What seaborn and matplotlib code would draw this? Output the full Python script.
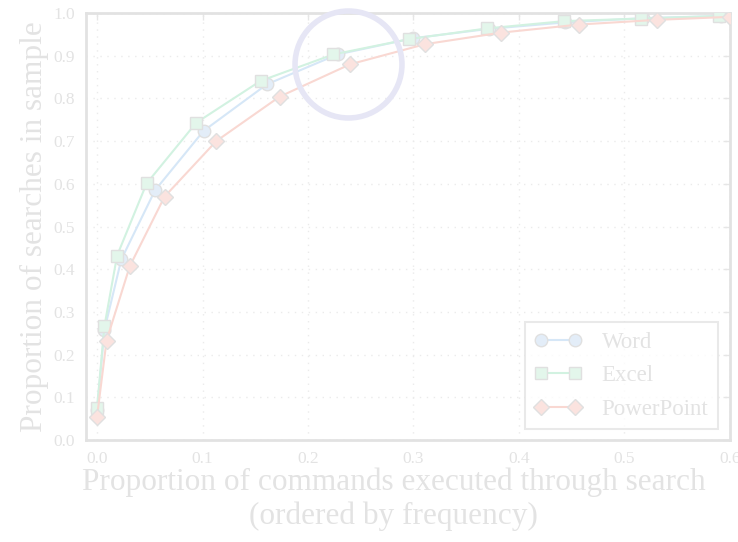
import pandas as pd
import matplotlib
matplotlib.use("Agg")
import matplotlib.pyplot as plt
import seaborn as sns

# values
word_x = [0.0, 0.007, 0.023, 0.055, 0.101, 0.161, 0.228, 0.300, 0.372, 0.444, 0.518, 0.592]
word_y = [0.070, 0.258, 0.423, 0.585, 0.724, 0.833, 0.903, 0.941, 0.963, 0.978, 0.988, 0.993]
excel_x = [0.0, 0.007, 0.019, 0.047, 0.094, 0.155, 0.224, 0.296, 0.370, 0.443, 0.516, 0.590]
excel_y = [0.076, 0.267, 0.432, 0.601, 0.743, 0.841, 0.903, 0.939, 0.964, 0.981, 0.987, 0.993]
ppt_x = [0.0, 0.009, 0.031, 0.064, 0.113, 0.173, 0.240, 0.311, 0.383, 0.457, 0.531, 0.600]
ppt_y = [0.055, 0.233, 0.407, 0.570, 0.700, 0.804, 0.880, 0.927, 0.954, 0.973, 0.984, 0.991]
apps = ["Word", "Excel", "PowerPoint"]

# highlighted point (circle annotation)
focus_x, focus_y = 0.238, 0.881

df = pd.concat([
    pd.DataFrame({"x": word_x, "y": word_y, "app": "Word"}),
    pd.DataFrame({"x": excel_x, "y": excel_y, "app": "Excel"}),
    pd.DataFrame({"x": ppt_x, "y": ppt_y, "app": "PowerPoint"}),
])

sns.set_style("white")
plt.rcParams['font.family'] = ['Liberation Serif', 'DejaVu Serif']
txt = "#e3e3e3"
line_cols = {"Word": "#d6e7f7", "Excel": "#d2f2e1", "PowerPoint": "#f9d8d2"}
fill_cols = {"Word": "#e3edf8", "Excel": "#e3f6eb", "PowerPoint": "#fbe3df"}
mk = {"Word": "o", "Excel": "s", "PowerPoint": "D"}

fig = plt.figure(figsize=(7.38, 5.42), dpi=100)
ax = fig.add_axes([0.1165, 0.188, 0.8725, 0.788])

for a in apps:
    sub = df[df["app"] == a]
    sns.lineplot(data=sub, x="x", y="y", ax=ax, color=line_cols[a], lw=1.5,
                 marker=mk[a], markersize=9 if a != "PowerPoint" else 8.5,
                 markerfacecolor=fill_cols[a], markeredgecolor="#e0e0e0",
                 markeredgewidth=1, label=a, zorder=3)

ax.plot([focus_x], [focus_y], marker="o", markersize=77, mfc="none",
        mec="#e6e6f5", mew=4, zorder=5, clip_on=False)

ax.set_xlim(-0.0105, 0.6)
ax.set_ylim(0, 1.0)
ax.set_xticks([0.0, 0.1, 0.2, 0.3, 0.4, 0.5, 0.6])
ax.set_yticks([0.0, 0.1, 0.2, 0.3, 0.4, 0.5, 0.6, 0.7, 0.8, 0.9, 1.0])
ax.grid(True, linestyle=(0, (1, 4)), color="#ebebeb", lw=1)
ax.tick_params(direction="in", top=True, right=True, length=5, width=1, pad=8,
               color="#e6e6e6", labelcolor=txt, labelsize=12.5)
for s in ax.spines.values():
    s.set_color("#e2e2e2")
    s.set_linewidth(2)

ax.set_xlabel("Proportion of commands executed through search\n(ordered by frequency)",
              fontsize=22.5, color=txt, labelpad=1, linespacing=1.2)
ax.xaxis.set_label_coords(0.478, -0.065, transform=ax.transAxes)
ax.xaxis.label.set_va("top")
ax.set_ylabel("Proportion of searches in sample", fontsize=22.5, color=txt, labelpad=3)

h, l = ax.get_legend_handles_labels()
leg = ax.legend(h, l, loc="lower right", numpoints=2, fontsize=16.5, frameon=True,
                fancybox=False, edgecolor="#e4e4e4", borderpad=0.4,
                borderaxespad=0, labelspacing=0.55, handletextpad=0.87,
                bbox_to_anchor=(0.981, 0.026), handlelength=2.09)
leg.get_frame().set_linewidth(1.5)
for t in leg.get_texts():
    t.set_color(txt)

fig.savefig("out.png", dpi=100)
